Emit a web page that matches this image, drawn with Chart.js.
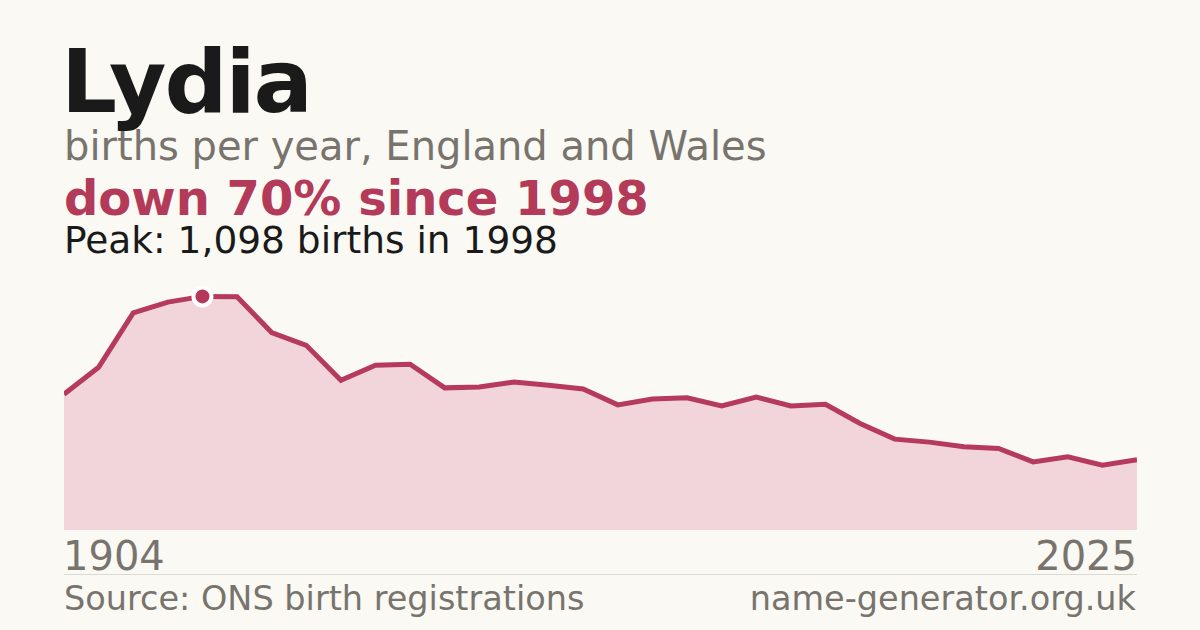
<!DOCTYPE html>
<html>
<head>
<meta charset="utf-8">
<script src="https://cdn.jsdelivr.net/npm/chart.js@4.4.1/dist/chart.umd.min.js"></script>
<style>
  html, body { margin: 0; padding: 0; }
  body { width: 1200px; height: 630px; background: #faf9f4; position: relative; overflow: hidden;
         font-family: "DejaVu Sans", sans-serif; }
  .t { position: absolute; white-space: nowrap; line-height: 1; }
  #title { left: 61px; top: 38px; font-size: 88px; font-weight: bold; color: #1a1a1a; letter-spacing: -2px; }
  #sub { left: 64px; top: 125.5px; font-size: 40px; color: #78746d; }
  #change { left: 64px; top: 174px; font-size: 48px; font-weight: bold; color: #b33a58; }
  #peak { left: 64px; top: 221.6px; font-size: 37.5px; color: #1a1a1a; }
  #xl { left: 63px; top: 536px; font-size: 40px; color: #78746d; }
  #xr { right: 63px; top: 536px; font-size: 40px; color: #78746d; }
  #rule { position: absolute; left: 64px; width: 1073px; top: 574px; height: 1px; background: #dcd9d2; }
  #src { left: 64px; top: 581.7px; font-size: 33.5px; color: #78746d; }
  #site { right: 64px; top: 581.7px; font-size: 33.5px; color: #78746d; }
  #wrap { position: absolute; left: 64px; top: 280px; width: 1073px; height: 250px; }
</style>
</head>
<body>
<div id="title" class="t"></div>
<div id="sub" class="t"></div>
<div id="change" class="t"></div>
<div id="peak" class="t"></div>
<div id="wrap"><canvas id="c"></canvas></div>
<div id="xl" class="t"></div>
<div id="xr" class="t"></div>
<div id="rule"></div>
<div id="src" class="t"></div>
<div id="site" class="t"></div>
<script>
const nameTitle = "Lydia";
const subtitle = "births per year, England and Wales";
const changeText = "down 70% since 1998";
const peakText = "Peak: 1,098 births in 1998";
const sourceText = "Source: ONS birth registrations";
const siteText = "name-generator.org.uk";

const years = [1994,1995,1996,1997,1998,1999,2000,2001,2002,2003,2004,2005,2006,2007,2008,2009,
               2010,2011,2012,2013,2014,2015,2016,2017,2018,2019,2020,2021,2022,2023,2024,2025];
const births = [638,765,1020,1071,1098,1096,928,868,704,774,779,668,672,696,680,663,
                588,616,621,583,625,583,591,501,427,413,391,383,320,344,305,330];
const xTickLabels = ["1904", "2025"];
const peakIndex = 4;
const yMax = 1175;

document.getElementById('title').textContent = nameTitle;
document.getElementById('sub').textContent = subtitle;
document.getElementById('change').textContent = changeText;
document.getElementById('peak').textContent = peakText;
document.getElementById('xl').textContent = xTickLabels[0];
document.getElementById('xr').textContent = xTickLabels[1];
document.getElementById('src').textContent = sourceText;
document.getElementById('site').textContent = siteText;

const radii = births.map((v, i) => i === peakIndex ? 9 : 0);

new Chart(document.getElementById('c'), {
  type: 'line',
  data: {
    labels: years,
    datasets: [{
      data: births,
      borderColor: '#b63a5b',
      borderWidth: 5,
      backgroundColor: '#f1d5db',
      fill: 'origin',
      tension: 0,
      pointRadius: radii,
      pointHoverRadius: radii,
      pointBackgroundColor: '#b3385a',
      pointBorderColor: '#ffffff',
      pointBorderWidth: 4,
      borderJoinStyle: 'miter',
      clip: 14
    }]
  },
  options: {
    responsive: true,
    maintainAspectRatio: false,
    animation: false,
    devicePixelRatio: 1,
    layout: { padding: 0 },
    plugins: { legend: { display: false }, tooltip: { enabled: false } },
    events: [],
    scales: {
      x: { display: false, offset: false },
      y: { display: false, min: 0, max: yMax }
    }
  }
});
</script>
</body>
</html>
